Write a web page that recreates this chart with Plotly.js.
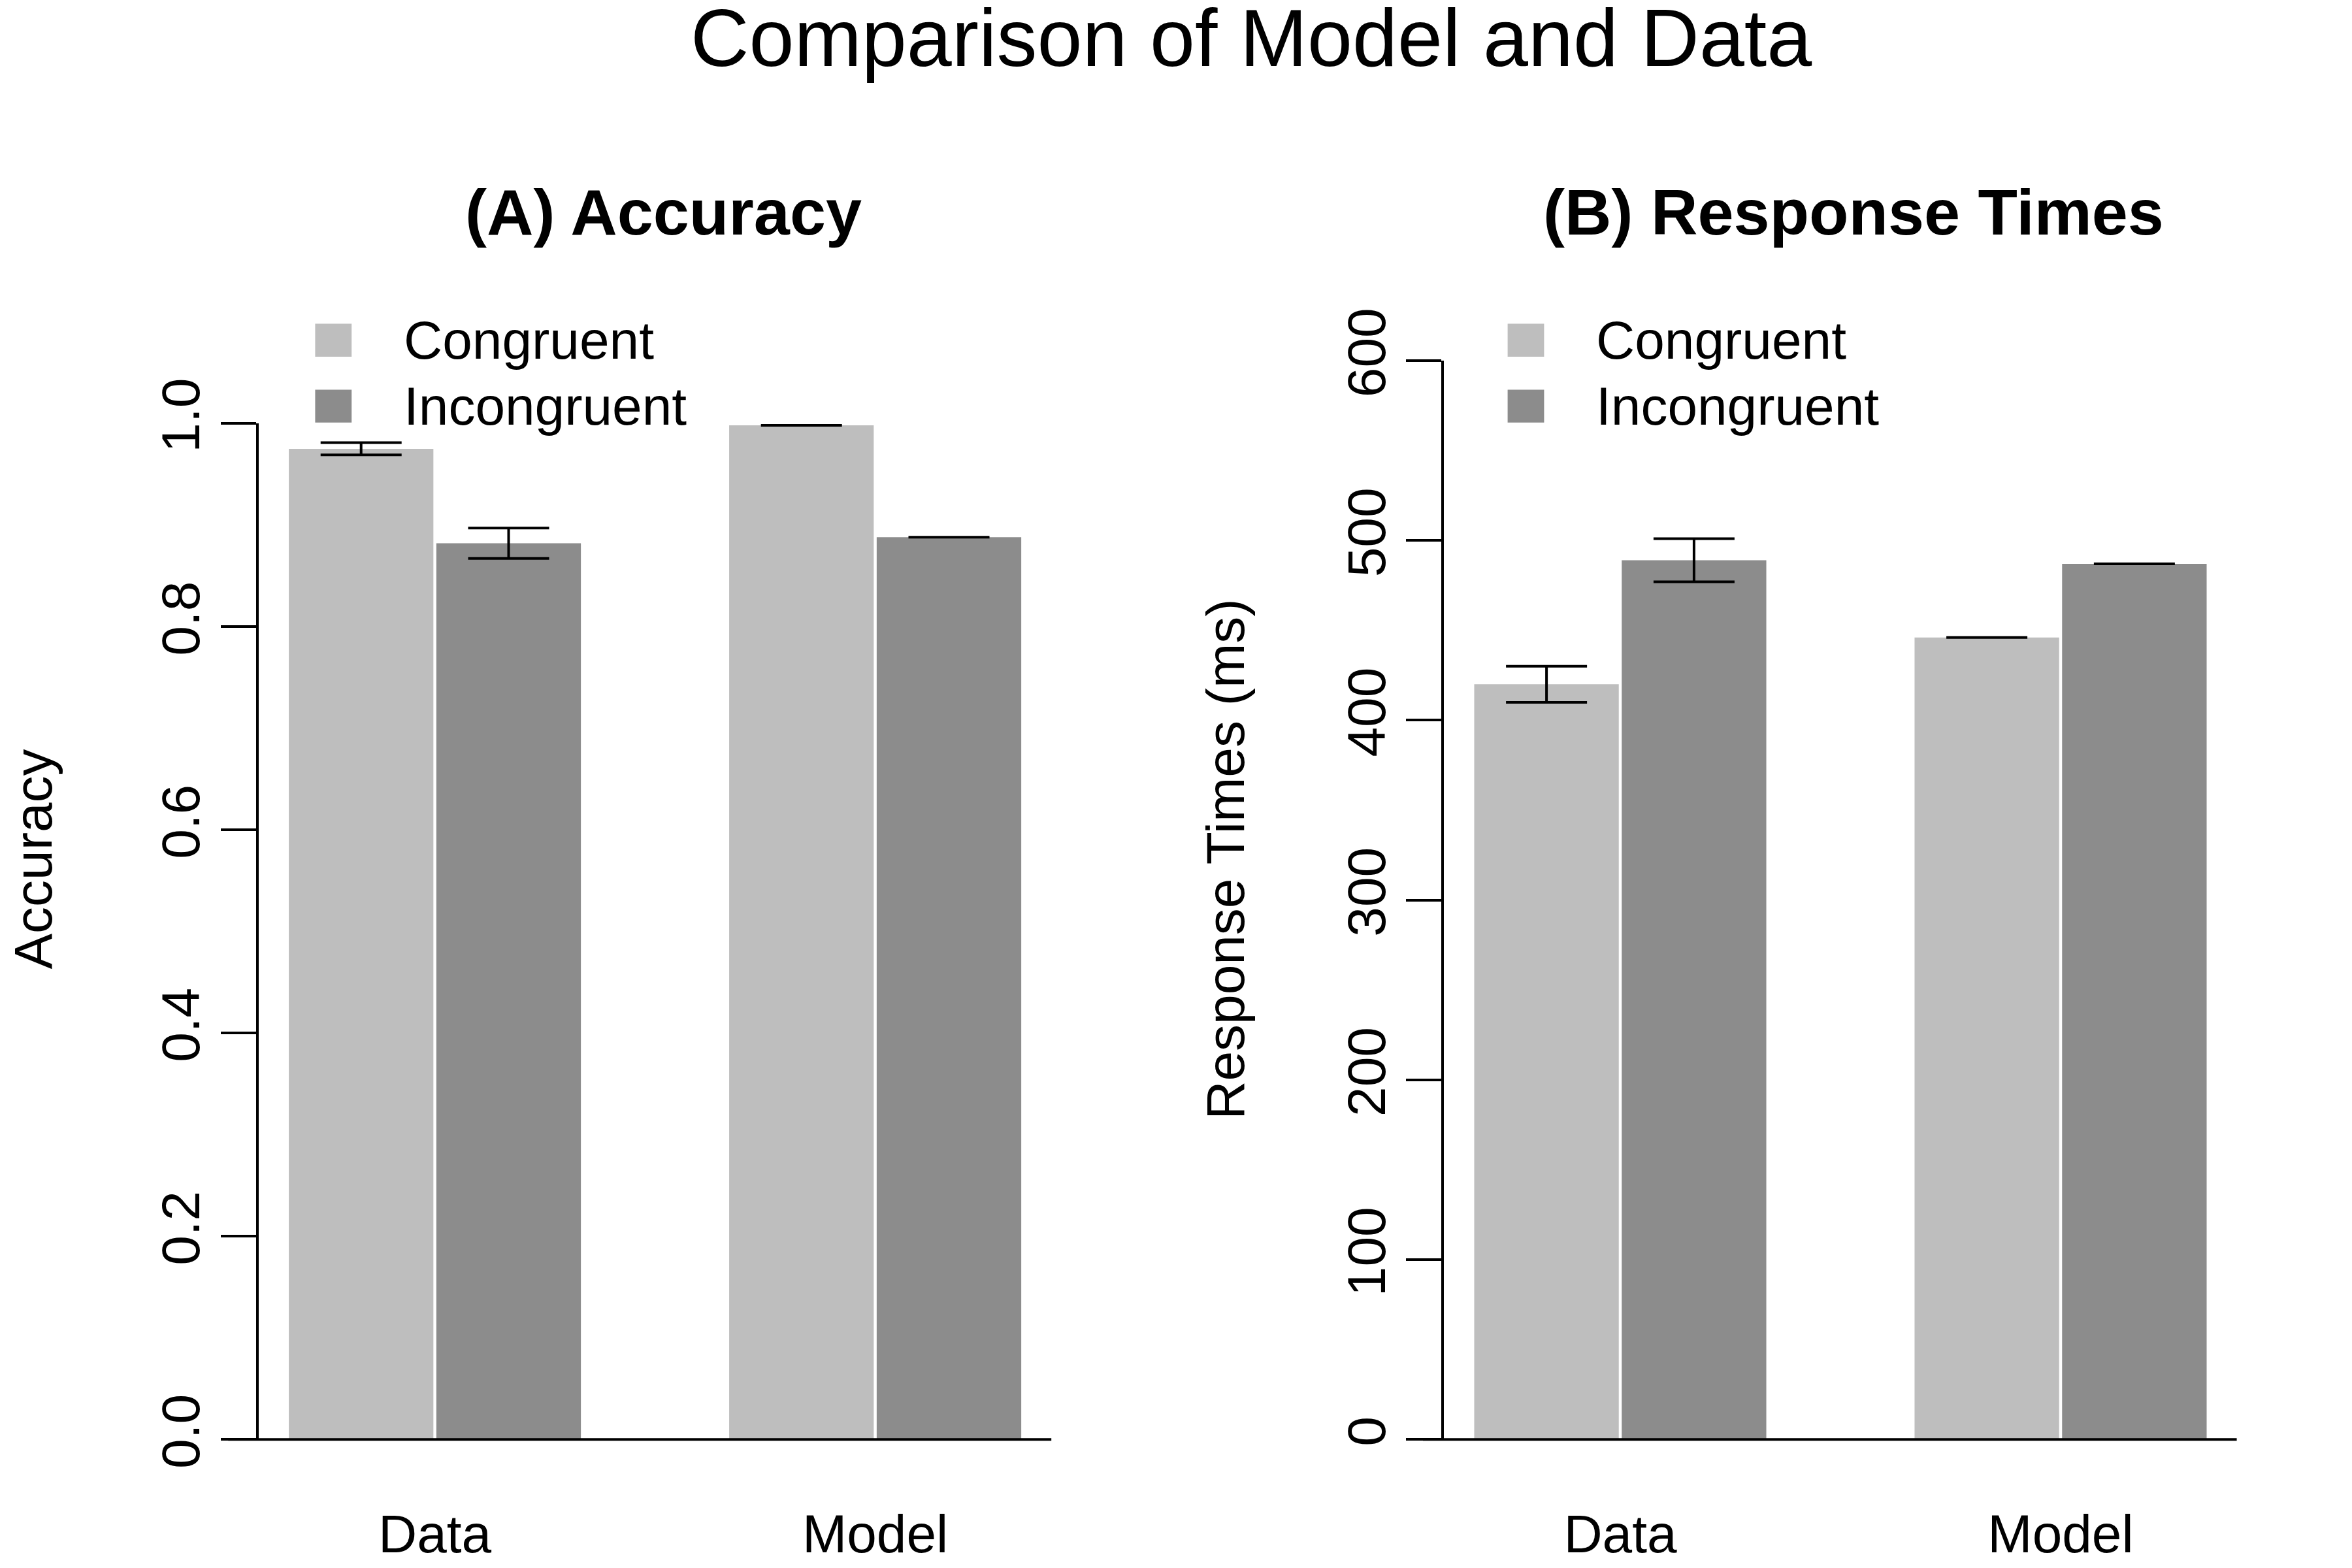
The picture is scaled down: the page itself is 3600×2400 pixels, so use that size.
<!DOCTYPE html>
<html>
<head>
<meta charset="utf-8">
<script src="https://cdn.plot.ly/plotly-3.0.1.min.js"></script>
<style>html,body{margin:0;padding:0;background:#fff}#graph{width:3600px;height:2400px}</style>
</head>
<body>
<div id="graph"></div>
<script>
const groups = ["Data", "Model"];
const accCongruent = [0.975, 0.998];
const accIncongruent = [0.882, 0.888];
const accCongruentErr = [0.006, null];
const accIncongruentErr = [0.015, null];
const rtCongruent = [420, 446];
const rtIncongruent = [489, 487];
const rtCongruentErr = [10, null];
const rtIncongruentErr = [12, null];

const light = "#bebebe";
const dark = "#8c8c8c";
const font = "Liberation Sans, Arial, sans-serif";

function bar(y, err, color, xa, ya) {
    return {
        type: "bar", x: groups, y: y, xaxis: xa, yaxis: ya,
        marker: {color: color}, showlegend: false,
        error_y: {type: "data", array: err, visible: true, color: "black",
                  thickness: 4, width: 62}
    };
}

const traces = [
    bar(accCongruent, accCongruentErr, light, "x", "y"),
    bar(accIncongruent, accIncongruentErr, dark, "x", "y"),
    bar(rtCongruent, rtCongruentErr, light, "x2", "y2"),
    bar(rtIncongruent, rtIncongruentErr, dark, "x2", "y2")
];

const tickFont = {family: font, size: 82, color: "black"};
function xaxis(domain, anchor) {
    return {domain: domain, anchor: anchor, range: [-0.4, 1.4], showline: false,
            ticks: "", tickfont: tickFont, ticklabelstandoff: 90, showgrid: false, zeroline: false};
}
function yaxis(domain, anchor, range, dtick) {
    return {domain: domain, anchor: anchor, range: range, dtick: dtick, showline: true,
            linecolor: "black", linewidth: 4, ticks: "outside", ticklen: 54, tickwidth: 4,
            tickcolor: "black", tickangle: -90, tickfont: tickFont, showgrid: false,
            zeroline: false, tickformat: dtick < 1 ? ".1f" : "d"};
}

function note(text, x, y, size, extra) {
    return Object.assign({text: text, x: x, y: y, xref: "paper", yref: "paper",
        xanchor: "center", yanchor: "middle", showarrow: false,
        font: {family: font, size: size, color: "black"}}, extra || {});
}

const shapes = [];
const annotations = [
    note("Comparison of Model and Data", 0.532, 0.976, 124),
    note("<b>(A) Accuracy</b>", 0.282, 0.865, 99),
    note("<b>(B) Response Times</b>", 0.788, 0.865, 99),
    note("Accuracy", 0.014, 0.452, 82, {textangle: -90}),
    note("Response Times (ms)", 0.521, 0.452, 82, {textangle: -90})
];
// baselines
[[0.097, 0.447], [0.605, 0.951]].forEach(function (r) {
    shapes.push({type: "line", xref: "paper", yref: "paper", x0: r[0], x1: r[1], y0: 0.082, y1: 0.082,
                 line: {color: "black", width: 4}});
});
// legends
[0.134, 0.641].forEach(function (lx) {
    [["Congruent", light, 0.783], ["Incongruent", dark, 0.741]].forEach(function (it) {
        shapes.push({type: "rect", xref: "paper", yref: "paper", x0: lx, x1: lx + 0.0155,
                     y0: it[2] - 0.0105, y1: it[2] + 0.0105, fillcolor: it[1], line: {width: 0}});
        annotations.push(note(it[0], lx + 0.037, it[2], 82, {xanchor: "left"}));
    });
});

const layout = {
    width: 3600, height: 2400,
    margin: {l: 0, r: 0, t: 0, b: 0},
    paper_bgcolor: "white", plot_bgcolor: "white",
    barmode: "group", bargap: 0.33, bargroupgap: 0.02,
    showlegend: false,
    xaxis: xaxis([0.110, 0.447], "y"),
    yaxis: yaxis([0.082, 0.730], "x", [0, 1], 0.2),
    xaxis2: xaxis([0.614, 0.951], "y2"),
    yaxis2: yaxis([0.082, 0.770], "x2", [0, 600], 100),
    shapes: shapes,
    annotations: annotations
};

Plotly.newPlot("graph", traces, layout, {staticPlot: true});
</script>
</body>
</html>
